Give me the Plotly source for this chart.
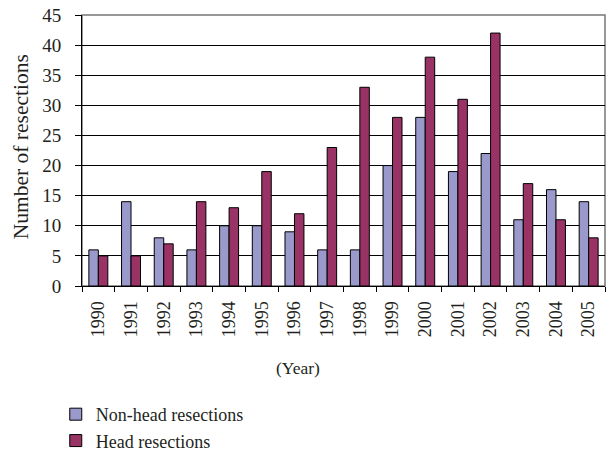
import plotly.graph_objects as go

years = [str(y) for y in range(1990, 2006)]
non_head = [6, 14, 8, 6, 10, 10, 9, 6, 6, 20, 28, 19, 22, 11, 16, 14]
head = [5, 5, 7, 14, 13, 19, 12, 23, 33, 28, 38, 31, 42, 17, 11, 8]
y_ticks = list(range(0, 50, 5))

FONT = "Liberation Serif"
fig = go.Figure()
fig.add_trace(go.Bar(x=years, y=non_head, name="Non-head resections",
                     marker=dict(color="#9999CC", line=dict(color="#000000", width=1)),
                     legendgroup="a"))
fig.add_trace(go.Bar(x=years, y=head, name="Head resections",
                     marker=dict(color="#993366", line=dict(color="#000000", width=1)),
                     legendgroup="b"))

fig.update_layout(
    width=606, height=451,
    margin=dict(l=82, r=1, t=15, b=165, autoexpand=False),
    paper_bgcolor="white", plot_bgcolor="white",
    font=dict(family=FONT, size=18, color="#231F20"),
    barmode="group", bargap=0.42, bargroupgap=0,
    showlegend=True,
    legend=dict(xref="container", yref="container", x=0.092, xanchor="left",
                y=0.122, yanchor="top",
                traceorder="grouped", tracegroupgap=0,
                font=dict(family=FONT, size=18), itemwidth=30),
    xaxis=dict(showline=True, linecolor="#000000", linewidth=1,
               ticks="outside", ticklen=5, tickcolor="#000000",
               tickson="boundaries", tickangle=-90, showgrid=False,
               ticklabelstandoff=7, automargin=False),
    yaxis=dict(range=[0, 45], tickvals=y_ticks, showline=True, linecolor="#000000",
               linewidth=1, ticks="outside", ticklen=6, tickcolor="#000000",
               showgrid=True, gridcolor="#000000", gridwidth=1, zeroline=False,
               ticklabelstandoff=10, tickfont=dict(size=19), automargin=False),
    shapes=[dict(type="rect", xref="paper", yref="paper", x0=0, x1=1, y0=0, y1=1,
                 line=dict(color="#777777", width=1.5), layer="below")],
    annotations=[
        dict(text="(Year)", xref="paper", yref="paper", x=0.413, y=-0.303,
             xanchor="center", yanchor="middle", showarrow=False,
             font=dict(family=FONT, size=17.5)),
        dict(text="Number of resections", xref="paper", yref="paper", x=-0.115,
             y=0.515, xanchor="center", yanchor="middle", textangle=-90,
             showarrow=False, font=dict(family=FONT, size=21.5)),
    ],
)
fig.write_html("out.html", config={"displayModeBar": False},
               post_script="document.body.style.margin='0px';")
